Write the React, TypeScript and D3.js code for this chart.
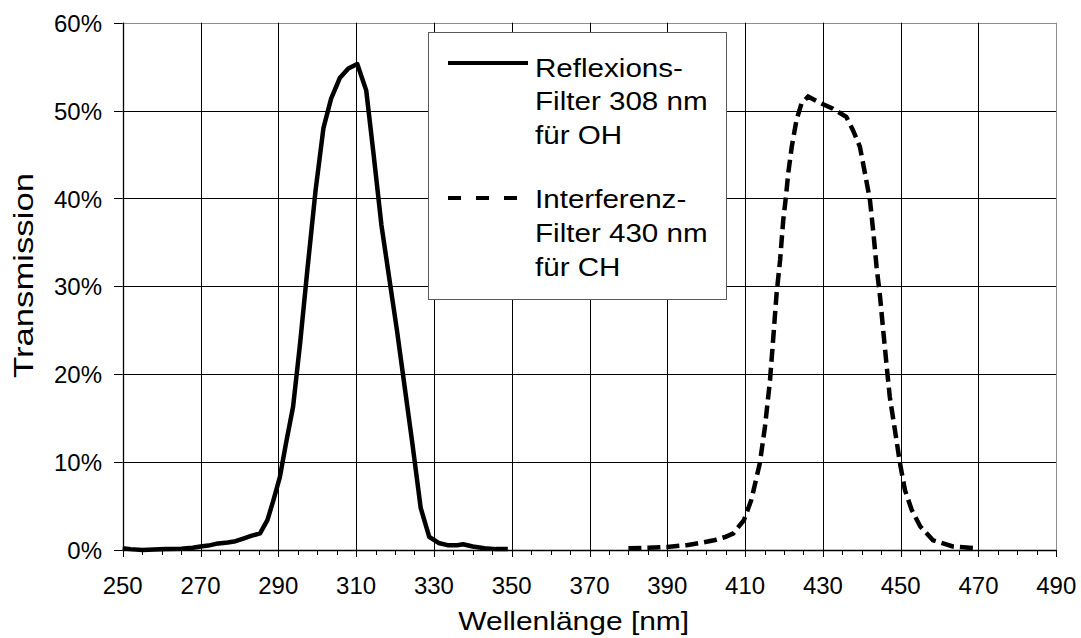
import React from "react";
import * as d3 from "d3";

const xTickValues = [250, 270, 290, 310, 330, 350, 370, 390, 410, 430, 450, 470, 490];
const yTickValues = [0, 10, 20, 30, 40, 50, 60];

const ohWavelength = [250, 252, 255, 258, 261, 265, 268, 270, 272, 274, 277, 279, 281, 283, 285.3, 287.2, 288.7, 290.4, 292, 293.8, 295.6, 297.5, 299.6, 301.6, 303.6, 305.8, 308, 310.3, 312.6, 314.5, 316.5, 318.5, 320.5, 322.5, 324.5, 326.6, 328.8, 331.2, 333.5, 336, 337.5, 340, 343, 346, 349];
const ohTransmission = [0.2, 0.1, 0.0, 0.05, 0.1, 0.15, 0.25, 0.4, 0.5, 0.7, 0.85, 1.0, 1.3, 1.6, 1.9, 3.4, 5.6, 8.3, 12.2, 16.3, 23.5, 32, 41, 48, 51.4, 53.7, 54.8, 55.3, 52.3, 45, 37, 31, 25, 18.5, 12, 4.8, 1.5, 0.8, 0.55, 0.55, 0.65, 0.4, 0.2, 0.1, 0.1];

const chWavelength = [380, 385, 390, 395, 398.5, 402, 405, 407, 409.7, 411.6, 413.8, 415.1, 416.4, 417.2, 418.1, 419, 419.8, 420.5, 421.1, 422, 423.2, 424.5, 426.2, 429.2, 432.6, 436, 437.7, 439.5, 440.8, 442.1, 443, 443.8, 444.7, 445.5, 446.4, 447.2, 448.5, 449.8, 451.1, 452.8, 455, 458.3, 463.4, 469.4];
const chTransmission = [0.2, 0.25, 0.35, 0.55, 0.8, 1.1, 1.5, 1.9, 3.4, 5.7, 9.9, 14, 19.3, 23.9, 29.2, 33, 37.5, 40.2, 42.9, 45.9, 48.9, 50.8, 51.6, 50.9, 50.2, 49.3, 47.8, 45.9, 42.9, 39.8, 36, 32.2, 28.8, 25, 20.9, 17.4, 13.7, 9.9, 6.8, 4.6, 2.7, 1.1, 0.4, 0.2];

const ohLegend = ["Reflexions-", "Filter 308 nm", "für OH"];
const chLegend = ["Interferenz-", "Filter 430 nm", "für CH"];
const xTitle = "Wellenlänge [nm]";
const yTitle = "Transmission";

const FONT = "'Liberation Sans', Arial, Helvetica, sans-serif";

export default function App() {
  const x = d3.scaleLinear().domain([250, 490]).range([122.7, 1056.3]);
  const y = d3.scaleLinear().domain([0, 60]).range([550, 22.7]);
  const line = d3
    .line<[number, number]>()
    .x((d) => x(d[0]))
    .y((d) => y(d[1]));
  const ohPts = ohWavelength.map((w, i) => [w, ohTransmission[i]] as [number, number]);
  const chPts = chWavelength.map((w, i) => [w, chTransmission[i]] as [number, number]);
  const minorTicks = d3.range(250, 491, 5);
  const x0 = x(250), x1 = x(490), y0 = y(0), y1 = y(60);

  return (
    <svg
      width={1081}
      height={638}
      style={{ position: "absolute", left: 0, top: 0, background: "#fff" }}
      fontFamily={FONT}
    >
      <rect x={0} y={0} width={1081} height={638} fill="#fff" />
      {yTickValues.map((v) => (
        <line
          key={"hg" + v}
          x1={x0}
          x2={x1}
          y1={Math.round(y(v)) + 0.5}
          y2={Math.round(y(v)) + 0.5}
          stroke={v === 60 ? "#8c8c8c" : "#000"}
          strokeWidth={1}
        />
      ))}
      {xTickValues.map((v) => (
        <line
          key={"vg" + v}
          x1={Math.round(x(v)) + 0.5}
          x2={Math.round(x(v)) + 0.5}
          y1={y1}
          y2={y0}
          stroke={v === 490 ? "#8c8c8c" : "#000"}
          strokeWidth={1}
        />
      ))}
      {yTickValues.map((v) => (
        <line
          key={"yt" + v}
          x1={114}
          x2={x0}
          y1={Math.round(y(v)) + 0.5}
          y2={Math.round(y(v)) + 0.5}
          stroke="#000"
        />
      ))}
      {minorTicks.map((v) => (
        <line
          key={"xt" + v}
          x1={Math.round(x(v)) + 0.5}
          x2={Math.round(x(v)) + 0.5}
          y1={y0}
          y2={y0 + ((v - 250) % 20 === 0 ? 7 : 5)}
          stroke="#000"
        />
      ))}
      <line x1={Math.round(x0) + 0.5} x2={Math.round(x0) + 0.5} y1={y1} y2={y0} stroke="#000" strokeWidth={1.3} />
      <line x1={x0} x2={x1} y1={Math.round(y0) + 0.5} y2={Math.round(y0) + 0.5} stroke="#000" strokeWidth={1.3} />

      {yTickValues.map((v) => (
        <text key={"yl" + v} x={102} y={y(v)} dy="0.38em" textAnchor="end" fontSize={24} fill="#000">
          {v + "%"}
        </text>
      ))}
      {xTickValues.map((v) => (
        <text key={"xl" + v} x={x(v)} y={594} textAnchor="middle" fontSize={24} fill="#000">
          {v}
        </text>
      ))}

      <path d={line(ohPts) || ""} fill="none" stroke="#000" strokeWidth={4.5} strokeLinejoin="round" />
      <path d={line(chPts) || ""} fill="none" stroke="#000" strokeWidth={4.5} strokeDasharray="13 6" />

      <rect x={428.5} y={32.5} width={298} height={267} fill="#fff" stroke="#5a5a5a" strokeWidth={1} />
      <line x1={448} x2={528} y1={63} y2={63} stroke="#000" strokeWidth={4} />
      <line x1={448} x2={528} y1={198} y2={198} stroke="#000" strokeWidth={4} strokeDasharray="13 15" />
      {ohLegend.map((t, i) => (
        <text key={"ol" + i} transform={`translate(535,${76.7 + i * 33.7}) scale(1.17,1)`} fontSize={25.3} fill="#000">
          {t}
        </text>
      ))}
      {chLegend.map((t, i) => (
        <text key={"cl" + i} transform={`translate(535,${208.3 + i * 33.7}) scale(1.17,1)`} fontSize={25.3} fill="#000">
          {t}
        </text>
      ))}

      <text transform="translate(573.7,629.7) scale(1.17,1)" textAnchor="middle" fontSize={25.6} fill="#000">
        {xTitle}
      </text>
      <text
        transform="translate(33.3,275.5) rotate(-90)"
        textAnchor="middle"
        fontSize={28}
        textLength={205}
        lengthAdjust="spacingAndGlyphs"
        fill="#000"
      >
        {yTitle}
      </text>
    </svg>
  );
}
